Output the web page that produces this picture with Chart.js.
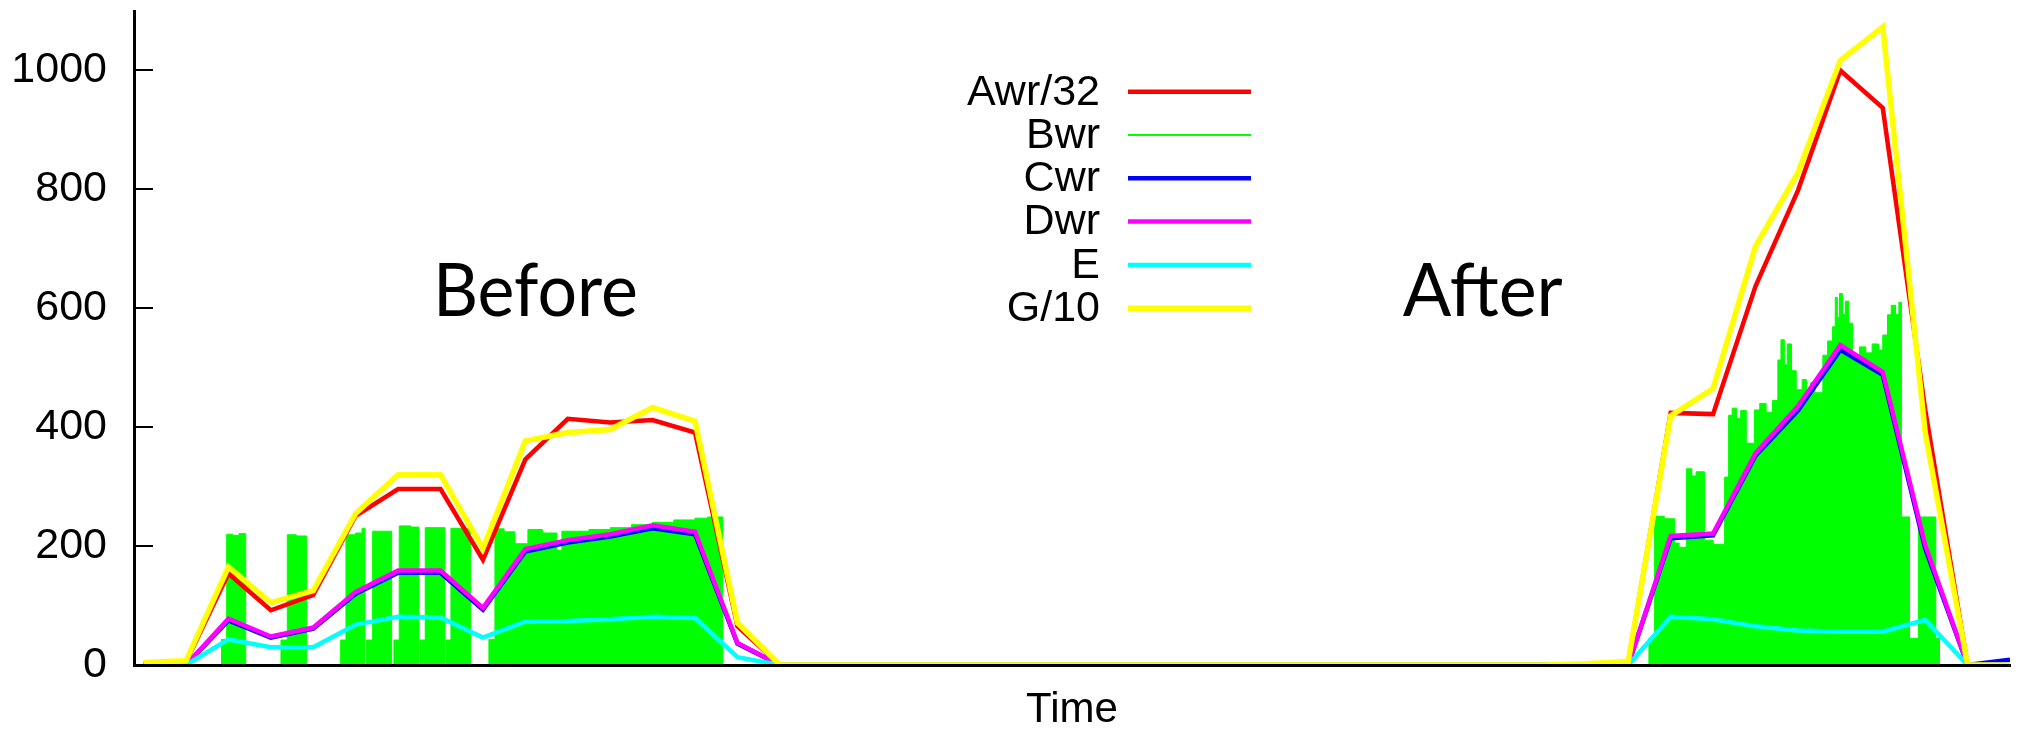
<!DOCTYPE html>
<html>
<head>
<meta charset="utf-8">
<script src="https://cdn.jsdelivr.net/npm/chart.js@4.4.1/dist/chart.umd.min.js"></script>
<style>
  html, body { margin: 0; padding: 0; background: #fff; }
</style>
</head>
<body>
<canvas id="chart" width="2022" height="731"></canvas>
<script>
// sample times for the line series (one point per interval)
const times = [-1, 0, 1, 2, 3, 4, 5, 6, 7, 8, 9, 10, 11, 12, 13, 14,
	15, 16, 17, 18, 19, 20, 21, 22, 23, 24, 25, 26, 27, 28, 29, 30, 31, 32,
	33, 34, 35, 36, 37, 38, 39, 40, 41, 42, 43];

const awr32 = [2, 5, 154, 92, 118, 251, 296, 296, 177, 346, 414, 408, 412, 391, 65, 0,
	0, 0, 0, 0, 0, 0, 0, 0, 0, 0, 0, 0, 0, 0, 0, 0, 0, 0,
	0, 5, 424, 422, 637, 798, 1000, 937, 430, 0, 0];

const cwr = [0, 0, 75, 46, 61, 120, 155, 155, 93, 191, 206, 216, 230, 220, 36, 0,
	0, 0, 0, 0, 0, 0, 0, 0, 0, 0, 0, 0, 0, 0, 0, 0, 0, 0,
	0, 0, 213, 218, 352, 428, 530, 488, 196, 0, 9];

const dwr = [0, 0, 78, 48, 63, 123, 159, 159, 96, 195, 210, 220, 235, 224, 37, 0,
	0, 0, 0, 0, 0, 0, 0, 0, 0, 0, 0, 0, 0, 0, 0, 0, 0, 0,
	0, 0, 217, 221, 356, 435, 538, 493, 202, 0, 0];

const eVals = [0, 0, 43, 30, 30, 68, 81, 80, 46, 73, 74, 77, 81, 79, 13, 0,
	0, 0, 0, 0, 0, 0, 0, 0, 0, 0, 0, 0, 0, 0, 0, 0, 0, 0,
	0, 0, 81, 77, 65, 58, 56, 56, 76, 0, 0];

const g10 = [4, 7, 165, 105, 125, 255, 320, 320, 196, 377, 391, 396, 433, 410, 71, 0,
	0, 0, 0, 0, 0, 0, 0, 0, 0, 0, 0, 0, 0, 0, 0, 0, 0, 0,
	2, 6, 419, 465, 704, 828, 1017, 1073, 392, 0, 0];

// Bwr is sampled much finer: each value holds from its time until the next one
const bwrTimes = [0.825, 0.959, 1.10, 1.25, 1.407,
	2.239, 2.388, 2.6, 2.845,
	3.646, 3.771, 4.0, 4.15, 4.219,
	4.259, 4.400, 4.848,
	4.902, 5.027, 5.3, 5.491,
	5.515, 5.640, 6.104,
	6.128, 6.246, 6.710,
	7.141, 7.283, 7.5, 7.754, 8.060, 8.4, 8.744, 8.862, 9.5, 10.0, 10.5, 11.0, 11.5, 12.0, 12.3, 12.656,
	34.487, 34.622, 34.85, 35.093, 35.2, 35.369, 35.5, 35.6, 35.800, 36.0,
	36.272, 36.366, 36.45, 36.55, 36.65, 36.783, 36.978, 37.1, 37.25, 37.4,
	37.528, 37.6, 37.68, 37.75, 37.85, 37.961, 38.1, 38.2, 38.3, 38.4,
	38.588, 38.7, 38.817, 38.88, 38.93, 38.98, 39.05, 39.12, 39.2, 39.288,
	39.45, 39.6, 39.75, 39.9, 40.0, 40.113, 40.2, 40.3, 40.38, 40.44,
	40.632, 40.84, 41.25, 41.339];

const bwrVals = [43, 220, 218, 221, 0,
	42, 219, 217, 0,
	42, 219, 222, 230, 0,
	42, 225, 0,
	42, 234, 232, 0,
	42, 231, 0,
	42, 230, 0,
	43, 229, 224, 204, 228, 222, 193, 225, 228, 231, 236, 240, 244, 247, 249, 0,
	45, 250, 246, 205, 198, 330, 318, 325, 210, 203,
	316, 420, 432, 415, 428, 373, 429, 440, 425, 445,
	513, 547, 505, 540, 495, 463, 480, 462, 475, 458,
	521, 545, 569, 618, 585, 625, 590, 612, 575, 521,
	535, 525, 540, 530, 555, 589, 605, 590, 610, 249,
	45, 249, 45, 0];

const yTicks = [0, 200, 400, 600, 800, 1000];

const FONT = "'Liberation Sans', Arial, Helvetica, sans-serif";

const toPoints = (xs, ys) => xs.map((x, i) => ({ x: x, y: ys[i] }));

function lineSet(label, vals, color, width, order) {
	return {
		label: label,
		data: toPoints(times, vals),
		borderColor: color,
		backgroundColor: color,
		borderWidth: width,
		borderJoinStyle: 'miter',
		pointRadius: 0,
		tension: 0,
		fill: false,
		order: order,
	};
}

const datasets = [
	lineSet('Awr/32', awr32, '#ff0000', 4.5, 5),
	{
		label: 'Bwr',
		data: toPoints(bwrTimes, bwrVals),
		borderColor: '#00ff00',
		backgroundColor: '#00ff00',
		borderWidth: 1,
		pointRadius: 0,
		stepped: 'before', // value holds until the next time
		fill: 'origin',
		order: 6,
	},
	lineSet('Cwr', cwr, '#0000ff', 4.5, 4),
	lineSet('Dwr', dwr, '#ff00ff', 4.5, 3),
	lineSet('E', eVals, '#00ffff', 4.5, 2),
	lineSet('G/10', g10, '#ffff00', 5.5, 1),
];

// inward ticks, the big labels and the legend are drawn here
const decorations = {
	id: 'decorations',
	afterDraw(chart) {
		const { ctx, chartArea, scales } = chart;
		ctx.save();

		// Short tick marks pointing into the plot
		ctx.strokeStyle = '#000';
		ctx.lineWidth = 2;
		yTicks.forEach((v) => {
			const y = Math.round(scales.y.getPixelForValue(v));
			ctx.beginPath();
			ctx.moveTo(chartArea.left, y);
			ctx.lineTo(chartArea.left + 19, y);
			ctx.stroke();
		});

		// Before / After
		const notes = [
			{ text: 'Before', t: 8.237, v: 587, width: 205 },
			{ text: 'After', t: 30.57, v: 587, width: 160 },
		];
		ctx.fillStyle = '#000';
		ctx.font = "74px Lato, 'Open Sans', sans-serif";
		ctx.textBaseline = 'alphabetic';
		ctx.textAlign = 'center';
		notes.forEach((n) => {
			const x = scales.x.getPixelForValue(n.t);
			const y = scales.y.getPixelForValue(n.v);
			const sx = n.width / ctx.measureText(n.text).width;
			ctx.save();
			ctx.translate(x, y);
			ctx.scale(sx, 1);
			ctx.fillText(n.text, 0, 0);
			ctx.restore();
		});

		// Legend: label right aligned, sample line on the right
		ctx.font = '43px ' + FONT;
		ctx.textAlign = 'right';
		ctx.textBaseline = 'middle';
		chart.data.datasets.forEach((ds, i) => {
			const y = 91.7 + i * 43.3;
			ctx.fillStyle = '#000';
			ctx.fillText(ds.label, 1100, y + 1);
			ctx.strokeStyle = ds.borderColor;
			ctx.lineWidth = Math.max(2, ds.borderWidth);
			ctx.beginPath();
			ctx.moveTo(1128, y);
			ctx.lineTo(1251, y);
			ctx.stroke();
		});

		ctx.restore();
	},
};

new Chart(document.getElementById('chart'), {
	type: 'line',
	data: { datasets: datasets },
	plugins: [decorations],
	options: {
		responsive: false,
		animation: false,
		devicePixelRatio: 1,
		layout: { padding: { top: 11, right: 12, left: 0, bottom: 0 } },
		plugins: {
			legend: { display: false },
			tooltip: { enabled: false },
		},
		scales: {
			x: {
				type: 'linear',
				min: -1.226,
				max: 43,
				grid: { display: false, drawTicks: false },
				border: { display: true, color: '#000', width: 3, z: 1 },
				ticks: { display: false },
				title: {
					display: true,
					text: 'Time',
					color: '#000',
					font: { family: FONT, size: 42, lineHeight: 1 },
					padding: { top: 0, bottom: 0 },
				},
				afterFit(s) {
					s.height = 66;
					s.paddingLeft = 0;
					s.paddingRight = 0;
				},
			},
			y: {
				min: 0,
				max: 1100,
				grid: { display: false, drawTicks: false },
				border: { display: true, color: '#000', width: 3, z: 1 },
				ticks: {
					stepSize: 200,
					includeBounds: false,
					color: '#000',
					padding: 27,
					font: { family: FONT, size: 43 },
					callback: (v) => String(v),
				},
				afterFit(s) {
					s.width = 134;
					s.paddingTop = 0;
					s.paddingBottom = 0;
				},
			},
		},
	},
});
</script>
</body>
</html>
